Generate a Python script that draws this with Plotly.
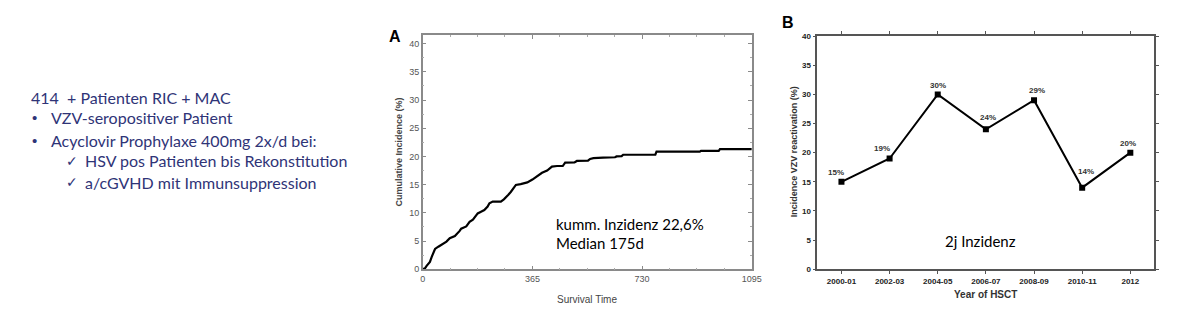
import plotly.graph_objects as go

# Panel A: cumulative incidence curve (days after HSCT, %)
days = [0, 8, 13, 19, 24, 30, 36, 41, 52, 68, 79, 90, 107, 123, 128, 145, 156, 167,
        183, 194, 205, 216, 222, 233, 260, 270, 277, 285, 293, 302, 310, 326, 348,
        365, 381, 397, 414, 430, 447, 466, 474, 505, 513, 550, 557, 562, 568, 600,
        640, 645, 662, 667, 774, 778, 922, 926, 985, 989, 1095]
cum_incidence = [0, 0.2, 0.6, 0.9, 1.3, 2.2, 2.9, 3.6, 4.0, 4.5, 4.9, 5.5, 5.9, 6.8,
                 7.2, 7.6, 8.4, 8.8, 9.9, 10.2, 10.5, 11.1, 11.7, 12.0, 12.0, 12.4,
                 12.7, 13.2, 13.7, 14.4, 14.95, 15.1, 15.4, 15.9, 16.55, 17.1, 17.5,
                 18.2, 18.3, 18.3, 18.9, 18.95, 19.2, 19.25, 19.55, 19.6, 19.7, 19.8,
                 19.85, 20.0, 20.05, 20.3, 20.3, 20.86, 20.86, 21.0, 21.0, 21.3, 21.3]
a_xticks = [0, 365, 730, 1095]
a_yticks = [0, 5, 10, 15, 20, 25, 30, 35, 40]

# Panel B: incidence of VZV reactivation by year of HSCT (%)
periods = ["2000-01", "2002-03", "2004-05", "2006-07", "2008-09", "2010-11", "2012"]
reactivation = [15, 19, 30, 24, 29, 14, 20]
b_yticks = [0, 5, 10, 15, 20, 25, 30, 35, 40]
label_xshift = [-5, -8, 0, 2, 3, 4, -2]
label_yshift = [9, 10, 9, 12, 10, 16, 9]

NAVY = "#2f3477"
W, H = 1200, 330


def px(x):
    return x / W


def py(y):
    return 1 - y / H


fig = go.Figure()

fig.add_trace(go.Scatter(
    x=days, y=cum_incidence, mode="lines",
    line=dict(color="black", width=2.2), xaxis="x", yaxis="y",
    showlegend=False, hoverinfo="skip"))

fig.add_trace(go.Scatter(
    x=periods, y=reactivation, mode="lines+markers",
    line=dict(color="black", width=2),
    marker=dict(symbol="square", size=6, color="black"),
    xaxis="x2", yaxis="y2", showlegend=False, hoverinfo="skip"))

axA = dict(showgrid=False, zeroline=False, showline=True, linecolor="#8a8a8a",
           linewidth=1.5, mirror="ticks", ticks="inside", ticklen=4,
           tickcolor="#8a8a8a",
           tickfont=dict(family="Liberation Sans", size=9, color="#555"))
axB = dict(showgrid=False, zeroline=False, showline=True, linecolor="#555",
           linewidth=1.5, mirror="ticks", ticks="outside", ticklen=3,
           tickcolor="#555",
           tickfont=dict(family="Liberation Sans", size=8, color="#222",
                         weight="bold"))

fig.update_layout(
    width=W, height=H, margin=dict(l=0, r=0, t=0, b=0),
    paper_bgcolor="white", plot_bgcolor="white",
    xaxis=dict(axA, domain=[px(424.3), px(757)], range=[0, 1095],
               tickvals=a_xticks,
               minor=dict(dtick=1095 / 12, ticks="inside", ticklen=2,
                          tickcolor="#aaa")),
    yaxis=dict(axA, domain=[py(272.7), py(31.7)], range=[0, 41.55],
               tickvals=a_yticks,
               minor=dict(dtick=2.5, ticks="inside", ticklen=2,
                          tickcolor="#aaa")),
    xaxis2=dict(axB, domain=[px(823.3), px(1164)], range=[-0.5, 6.5],
                type="category", anchor="y2"),
    yaxis2=dict(axB, domain=[py(272.7), py(33)], range=[0, 40],
                tickvals=b_yticks, anchor="x2"),
)

ann = []

# percentage labels above the panel B points (category index as x)
for i, (v, dx, dy) in enumerate(zip(reactivation, label_xshift, label_yshift)):
    ann.append(dict(x=i, y=v, xref="x2", yref="y2", text=f"{v}%",
                    showarrow=False, yshift=dy, xshift=dx,
                    font=dict(family="Liberation Sans", size=8, color="#333",
                              weight="bold")))


def note(x, y, text, size, color, family="Lato", weight="normal",
         xanchor="left", angle=0):
    ann.append(dict(x=px(x), y=py(y), xref="paper", yref="paper", text=text,
                    showarrow=False, xanchor=xanchor, yanchor="middle",
                    textangle=angle,
                    font=dict(family=family, size=size, color=color,
                              weight=weight)))


# left-hand text block
note(26, 96, "414  + Patienten RIC + MAC", 16, NAVY)
note(27, 117, "•", 15, NAVY, family="Liberation Sans")
note(47, 117, "VZV-seropositiver Patient", 16, NAVY)
note(27, 140, "•", 15, NAVY, family="Liberation Sans")
note(47, 140, "Acyclovir Prophylaxe 400mg 2x/d bei:", 16, NAVY)
note(62, 161, "✓", 14, NAVY, family="DejaVu Sans")
note(81, 161, "HSV pos Patienten bis Rekonstitution", 16, NAVY)
note(62, 183, "✓", 14, NAVY, family="DejaVu Sans")
note(81, 183, "a/cGVHD mit Immunsuppression", 16, NAVY)

# panel A labels
note(388, 33, "A", 16, "black", family="Liberation Sans", weight="bold")
note(400, 152, "Cumulative Incidence (%)", 9, "#444", family="Liberation Sans",
     weight="bold", xanchor="center", angle=-90)
note(590, 304, "Survival Time", 10, "#444", family="Liberation Sans",
     xanchor="center")
note(557, 226, "kumm. Inzidenz 22,6%", 15, "black")
note(557, 246, "Median 175d", 15, "black")

# panel B labels
note(786, 19, "B", 16, "black", family="Liberation Sans", weight="bold")
note(800, 152, "Incidence VZV reactivation (%)", 9, "#333",
     family="Liberation Sans", weight="bold", xanchor="center", angle=-90)
note(993, 299, "Year of HSCT", 10, "#333", family="Liberation Sans",
     weight="bold", xanchor="center")
note(950, 244, "2j Inzidenz", 15, "black")

fig.update_layout(annotations=ann)
fig.write_html("out.html")
